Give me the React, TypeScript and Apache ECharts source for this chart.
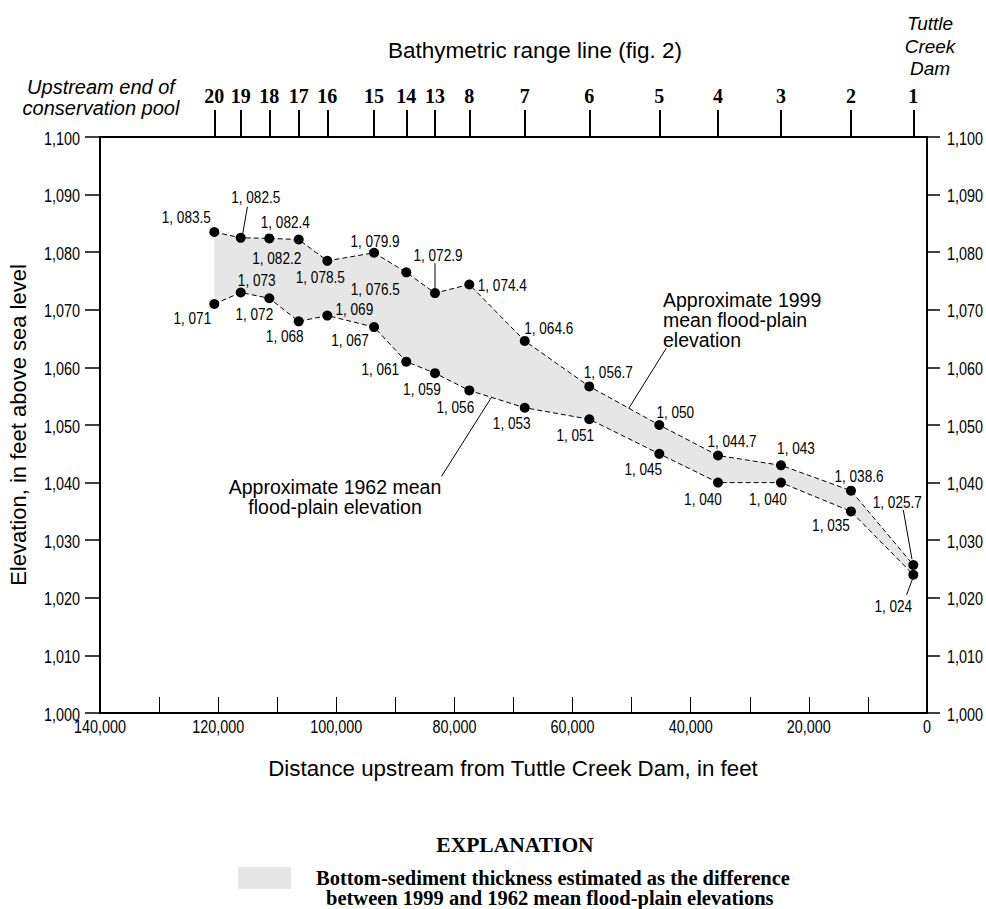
import React, { useEffect, useRef } from "react";
import * as echarts from "echarts";

// ---- data ----
const rangeLines = ["20", "19", "18", "17", "16", "15", "14", "13", "8", "7", "6", "5", "4", "3", "2", "1"];
const distances = [120650, 116180, 111340, 106360, 101520, 93610, 88150, 83290, 77480, 68100, 57170, 45320, 35380, 24720, 12870, 2320];
const elev1999 = [1083.5, 1082.5, 1082.4, 1082.2, 1078.5, 1079.9, 1076.5, 1072.9, 1074.4, 1064.6, 1056.7, 1050, 1044.7, 1043, 1038.6, 1025.7];
const elev1962 = [1071, 1073, 1072, 1068, 1069, 1067, 1061, 1059, 1056, 1053, 1051, 1045, 1040, 1040, 1035, 1024];
const xTickLabels = [140000, 120000, 100000, 80000, 60000, 40000, 20000, 0];
const yTickLabels = [1000, 1010, 1020, 1030, 1040, 1050, 1060, 1070, 1080, 1090, 1100];
const xMin = 0;
const xMax = 140000;
const xStep = 10000;
const yMin = 1000;
const yMax = 1100;
const yStep = 10;

// ---- label placement (pixel offsets from each point) ----
const off1999 = [[-28, -15], [15, -41], [16, -16], [-22, 18], [-7, 16], [1, -12], [-31, 17], [3, -38], [33, 0], [24, -13], [19, -14], [16, -13], [14, -15], [15, -17], [8, -15], [-16, -63]];
const off1962 = [[-22, 14], [16, -13], [-15, 16], [-14, 15], [27, -7], [-24, 13], [-26, 7], [-13, 16], [-14, 16], [-13, 15], [-14, 16], [-16, 15], [-15, 16], [-13, 16], [-20, 14], [-20, 31]];
// leader lines (pixel offsets from point): index -> [from, to]
const lead1999: Record<number, number[][]> = { 1: [[2, -4], [6.7, -31]], 7: [[0, -5], [0, -30]], 15: [[-1.3, -5.7], [-10, -55]] };
const lead1962: Record<number, number[][]> = { 15: [[-0.7, 4], [-6.7, 20]] };

const SANS = "'Liberation Sans', Arial, Helvetica, sans-serif";
const SERIF = "'Liberation Serif', 'Times New Roman', serif";
const NARROW_SCALE = 0.8;

const fmt = (v: number) => {
  const s = String(v);
  const [ip, dp] = s.split(".");
  const withC = ip.replace(/\B(?=(\d{3})+(?!\d))/g, ",");
  return dp ? withC + "." + dp : withC;
};
const lab = (v: number) => fmt(v).replace(",", ", ");

const narrowText = (text: string, x: number, y: number, size: number, align: string, vAlign: string) => ({
  type: "text",
  x,
  y,
  scaleX: NARROW_SCALE,
  style: { text, fill: "#000", font: `${size}px ${SANS}`, align, verticalAlign: vAlign },
});

export default function App() {
  const ref = useRef<HTMLDivElement>(null);
  useEffect(() => {
    if (!ref.current) return;
    const chart = echarts.init(ref.current, undefined, { renderer: "svg" });
    const lineSeries = (name: string, vals: number[]) => ({
      type: "line",
      name,
      z: 3,
      data: distances.map((d, i) => [d, vals[i]]),
      symbol: "circle",
      symbolSize: 10,
      itemStyle: { color: "#000" },
      lineStyle: { color: "#000", width: 1, type: [5, 3] },
      label: { show: false },
      emphasis: { disabled: true },
    });
    const labelSeries = (name: string, vals: number[], offs: number[][], leads: Record<number, number[][]>) => ({
      type: "custom",
      name: name + " labels",
      z: 5,
      silent: true,
      data: distances.map((d, i) => [d, vals[i]]),
      encode: { x: 0, y: 1 },
      renderItem: (params: any, api: any) => {
        const i = params.dataIndex;
        const p = api.coord([api.value(0), api.value(1)]);
        const children: any[] = [narrowText(lab(vals[i]), p[0] + offs[i][0], p[1] + offs[i][1], 17, "center", "middle")];
        const l = leads[i];
        if (l) {
          children.push({
            type: "line",
            shape: { x1: p[0] + l[0][0], y1: p[1] + l[0][1], x2: p[0] + l[1][0], y2: p[1] + l[1][1] },
            style: { stroke: "#000", lineWidth: 1 },
          });
        }
        return { type: "group", children };
      },
    });
    const option: any = {
      animation: false,
      backgroundColor: "#ffffff",
      grid: { left: 100, top: 137, width: 827, height: 576, containLabel: false, outerBoundsMode: "none" },
      xAxis: [
        {
          type: "value",
          position: "bottom",
          min: xMin,
          max: xMax,
          interval: xStep,
          inverse: true,
          axisLine: { show: true, onZero: false, lineStyle: { color: "#000", width: 2 } },
          axisTick: { show: true, inside: true, length: 16, lineStyle: { color: "#000", width: 1 } },
          axisLabel: { show: false },
          splitLine: { show: false },
        },
        {
          type: "value",
          position: "top",
          min: xMin,
          max: xMax,
          inverse: true,
          axisLine: { show: true, onZero: false, lineStyle: { color: "#000", width: 2 } },
          axisTick: { show: true, inside: false, length: 27, customValues: distances, lineStyle: { color: "#000", width: 2 } },
          axisLabel: {
            show: true,
            customValues: distances,
            margin: 31,
            fontFamily: SERIF,
            fontWeight: "bold",
            fontSize: 20,
            color: "#000",
            formatter: (v: number) => {
              const i = distances.indexOf(v);
              return i >= 0 ? rangeLines[i] : "";
            },
          },
          splitLine: { show: false },
        },
      ],
      yAxis: [
        {
          type: "value",
          position: "left",
          min: yMin,
          max: yMax,
          interval: yStep,
          axisLine: { show: true, onZero: false, lineStyle: { color: "#000", width: 2 } },
          axisTick: { show: true, inside: false, length: 15, lineStyle: { color: "#000", width: 1.5 } },
          axisLabel: { show: false },
          splitLine: { show: false },
        },
        {
          type: "value",
          position: "right",
          min: yMin,
          max: yMax,
          interval: yStep,
          axisLine: { show: true, onZero: false, lineStyle: { color: "#000", width: 2 } },
          axisTick: { show: true, inside: false, length: 13, lineStyle: { color: "#000", width: 1.5 } },
          axisLabel: { show: false },
          splitLine: { show: false },
        },
      ],
      series: [
        {
          type: "custom",
          name: "band",
          z: 1,
          silent: true,
          data: distances.map((d, i) => [d, elev1962[i], elev1999[i]]),
          encode: { x: 0, y: [1, 2] },
          renderItem: (params: any, api: any) => {
            if (params.dataIndex !== 0) return null;
            const pts: number[][] = [];
            for (let i = 0; i < distances.length; i++) pts.push(api.coord([distances[i], elev1999[i]]));
            for (let i = distances.length - 1; i >= 0; i--) pts.push(api.coord([distances[i], elev1962[i]]));
            return { type: "polygon", shape: { points: pts }, style: { fill: "#e6e6e6", stroke: "none" } };
          },
        },
        lineSeries("1999", elev1999),
        lineSeries("1962", elev1962),
        labelSeries("1999", elev1999, off1999, lead1999),
        labelSeries("1962", elev1962, off1962, lead1962),
        {
          type: "custom",
          name: "y tick labels",
          silent: true,
          z: 5,
          data: yTickLabels.map((v) => [xMax, v]),
          encode: { x: 0, y: 1 },
          renderItem: (params: any, api: any) => {
            const v = api.value(1);
            const pl = api.coord([xMax, v]);
            const pr = api.coord([xMin, v]);
            return {
              type: "group",
              children: [
                narrowText(fmt(v), pl[0] - 20, pl[1] + 1, 18, "right", "middle"),
                narrowText(fmt(v), pr[0] + 20, pr[1] + 1, 18, "left", "middle"),
              ],
            };
          },
        },
        {
          type: "custom",
          name: "x tick labels",
          silent: true,
          z: 5,
          data: xTickLabels.map((v) => [v, yMin]),
          encode: { x: 0, y: 1 },
          renderItem: (params: any, api: any) => {
            const v = api.value(0);
            const p = api.coord([v, yMin]);
            return narrowText(fmt(v), p[0], p[1] + 4, 18, "center", "top");
          },
        },
      ],
    };
    chart.setOption(option);

    const px = (d: number, e: number) => chart.convertToPixel({ xAxisIndex: 0, yAxisIndex: 0 }, [d, e]) as number[];
    const g: any[] = [];
    // annotation leaders anchored along data segments
    const a1a = px(distances[10], elev1999[10]);
    const a1b = px(distances[11], elev1999[11]);
    const t1 = 0.565;
    const A1 = [a1a[0] + (a1b[0] - a1a[0]) * t1, a1a[1] + (a1b[1] - a1a[1]) * t1];
    g.push({ type: "line", shape: { x1: A1[0], y1: A1[1], x2: A1[0] + 37.4, y2: A1[1] - 60 }, style: { stroke: "#000", lineWidth: 1 }, z: 10 });
    const a2a = px(distances[8], elev1962[8]);
    const a2b = px(distances[9], elev1962[9]);
    const t2 = 0.4;
    const A2 = [a2a[0] + (a2b[0] - a2a[0]) * t2, a2a[1] + (a2b[1] - a2a[1]) * t2];
    g.push({ type: "line", shape: { x1: A2[0], y1: A2[1], x2: A2[0] - 50, y2: A2[1] + 79 }, style: { stroke: "#000", lineWidth: 1 }, z: 10 });

    const txt = (text: string, x: number, y: number, o: any = {}) => ({
      type: "text",
      x,
      y,
      z: 10,
      style: {
        text,
        fill: "#000",
        font: o.font || `20px ${SANS}`,
        align: o.align || "center",
        verticalAlign: "middle",
      },
      rotation: o.rotation || 0,
    });
    g.push(txt("Bathymetric range line (fig. 2)", 535, 50, { font: `22.5px ${SANS}` }));
    g.push(txt("Upstream end of", 101, 87, { font: `italic 20px ${SANS}` }));
    g.push(txt("conservation pool", 101, 108, { font: `italic 20px ${SANS}` }));
    g.push(txt("Tuttle", 930, 23, { font: `italic 19px ${SANS}` }));
    g.push(txt("Creek", 930, 46, { font: `italic 19px ${SANS}` }));
    g.push(txt("Dam", 930, 68, { font: `italic 19px ${SANS}` }));
    g.push(txt("Elevation, in feet above sea level", 18, 425, { font: `22px ${SANS}`, rotation: Math.PI / 2 }));
    g.push(txt("Distance upstream from Tuttle Creek Dam, in feet", 513, 768, { font: `22.3px ${SANS}` }));
    g.push(txt("Approximate 1999", 663, 300, { font: `19.5px ${SANS}`, align: "left" }));
    g.push(txt("mean flood-plain", 663, 320, { font: `19.5px ${SANS}`, align: "left" }));
    g.push(txt("elevation", 663, 340, { font: `19.5px ${SANS}`, align: "left" }));
    g.push(txt("Approximate 1962 mean", 335, 487, { font: `19.5px ${SANS}` }));
    g.push(txt("flood-plain elevation", 335, 507, { font: `19.5px ${SANS}` }));
    g.push(txt("EXPLANATION", 515, 845, { font: `bold 21.5px ${SERIF}` }));
    g.push({ type: "rect", shape: { x: 238, y: 867, width: 53, height: 22 }, style: { fill: "#e6e6e6" }, z: 10 });
    g.push(txt("Bottom-sediment thickness estimated as the difference", 316, 878, { font: `bold 20.5px ${SERIF}`, align: "left" }));
    g.push(txt("between 1999 and 1962 mean flood-plain elevations", 326, 898, { font: `bold 20.5px ${SERIF}`, align: "left" }));
    chart.setOption({ graphic: g });

    return () => chart.dispose();
  }, []);
  return <div ref={ref} style={{ position: "absolute", left: 0, top: 0, width: 986, height: 909, background: "#fff" }} />;
}
